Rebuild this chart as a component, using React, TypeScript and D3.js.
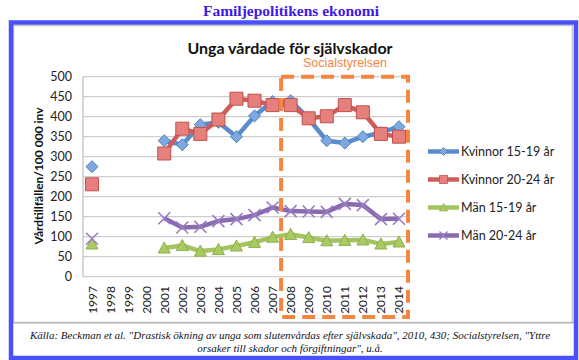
import React, { useEffect, useRef } from 'react';
import * as d3 from 'd3';

const pageTitle = 'Familjepolitikens ekonomi';
const chartTitle = 'Unga vårdade för självskador';
const highlightLabel = 'Socialstyrelsen';
const yAxisTitle = 'Vårdtillfällen/100 000 inv';
const captionLines = [
  'Källa: Beckman et al. "Drastisk ökning av unga som slutenvårdas efter självskada", 2010, 430; Socialstyrelsen, "Yttre',
  'orsaker till skador och förgiftningar", u.å.',
];

const years = ['1997', '1998', '1999', '2000', '2001', '2002', '2003', '2004', '2005',
  '2006', '2007', '2008', '2009', '2010', '2011', '2012', '2013', '2014'];
const yTicks = [0, 50, 100, 150, 200, 250, 300, 350, 400, 450, 500];
const highlightYears = ['2008', '2014'];

const kvinnor1519 = [275, null, null, null, 340, 330, 380, 386, 350, 402, 438, 440, 395, 340, 334, 350, 360, 375];
const kvinnor2024 = [231, null, null, null, 308, 370, 357, 393, 445, 440, 429, 429, 396, 401, 429, 411, 357, 350];
const man1519 = [82, null, null, null, 72, 78, 64, 68, 77, 86, 99, 106, 98, 90, 91, 92, 82, 87];
const man2024 = [95, null, null, null, 146, 123, 125, 139, 144, 154, 173, 164, 163, 162, 182, 179, 144, 145];

const seriesNames = ['Kvinnor 15-19 år', 'Kvinnor 20-24 år', 'Män 15-19 år', 'Män 20-24 år'];

type Series = {
  name: string;
  values: (number | null)[];
  line: string;
  fill: string;
  stroke: string;
  shape: 'diamond' | 'square' | 'triangle' | 'cross';
};

const series: Series[] = [
  { name: seriesNames[0], values: kvinnor1519, line: '#5a8ccc', fill: '#7ea9e0', stroke: '#4f81bd', shape: 'diamond' },
  { name: seriesNames[1], values: kvinnor2024, line: '#d05c59', fill: '#e5807c', stroke: '#c0504d', shape: 'square' },
  { name: seriesNames[2], values: man1519, line: '#a3c45f', fill: '#a8cc62', stroke: '#8fae50', shape: 'triangle' },
  { name: seriesNames[3], values: man2024, line: '#8a6bb0', fill: 'none', stroke: '#9a7cc0', shape: 'cross' },
];

function markerPath(shape: Series['shape'], s: number): string {
  const h = s / 2;
  if (shape === 'diamond') return `M0,${-h}L${h},0L0,${h}L${-h},0Z`;
  if (shape === 'square') return `M${-h},${-h}H${h}V${h}H${-h}Z`;
  if (shape === 'triangle') return `M0,${-h}L${h},${h * 0.85}L${-h},${h * 0.85}Z`;
  return `M${-h},${-h}L${h},${h}M${h},${-h}L${-h},${h}`;
}

export default function App() {
  const ref = useRef<SVGSVGElement>(null);

  useEffect(() => {
    const width = 579;
    const height = 360;
    const svg = d3.select(ref.current);
    svg.selectAll('*').remove();
    svg.attr('width', width).attr('height', height);

    const sans = 'Lato, "Open Sans", sans-serif';

    // Page heading
    svg.append('text')
      .text(pageTitle)
      .attr('x', 291)
      .attr('y', 16)
      .attr('text-anchor', 'middle')
      .attr('font-family', '"Liberation Serif", serif')
      .attr('font-weight', 'bold')
      .attr('font-size', '15.5px')
      .attr('fill', '#3d19e8');

    // Inner box + separator
    svg.append('rect')
      .attr('x', 13.5).attr('y', 25.5)
      .attr('width', 559).attr('height', 297)
      .attr('fill', 'none')
      .attr('stroke', '#c4c4c4')
      .attr('stroke-width', 1.5);

    svg.append('line')
      .attr('x1', 13).attr('x2', 574)
      .attr('y1', 322.7).attr('y2', 322.7)
      .attr('stroke', '#b8b8b8')
      .attr('stroke-width', 1.5);

    // Blue frame
    svg.append('rect')
      .attr('x', 11).attr('y', 22.5)
      .attr('width', 565).attr('height', 335.5)
      .attr('fill', 'none')
      .attr('stroke', '#4a50fb')
      .attr('stroke-width', 4.5);

    // Caption
    captionLines.forEach((line, i) => {
      svg.append('text')
        .text(line)
        .attr('x', 290)
        .attr('y', 339 + i * 13)
        .attr('text-anchor', 'middle')
        .attr('font-family', '"Liberation Serif", serif')
        .attr('font-style', 'italic')
        .attr('font-size', '11px')
        .attr('fill', '#111122');
    });

    // Chart title
    svg.append('text')
      .text(chartTitle)
      .attr('x', 290)
      .attr('y', 54)
      .attr('text-anchor', 'middle')
      .attr('font-family', sans)
      .attr('font-weight', 'bold')
      .attr('font-size', '16px')
      .attr('fill', '#111');

    // Scales
    const x = d3.scaleBand<string>()
      .domain(years)
      .range([83, 408])
      .padding(0);
    const cx = (yr: string) => (x(yr) as number) + x.bandwidth() / 2;

    const y = d3.scaleLinear()
      .domain([0, 500])
      .range([276.7, 76.7]);

    // Gridlines
    svg.append('g')
      .selectAll('line')
      .data(yTicks)
      .enter()
        .append('line')
        .attr('x1', 83)
        .attr('x2', 408)
        .attr('y1', d => y(d))
        .attr('y2', d => y(d))
        .attr('stroke', '#c2c2c2')
        .attr('stroke-width', 1);

    svg.append('line')
      .attr('x1', 83).attr('x2', 83)
      .attr('y1', y(0)).attr('y2', y(500))
      .attr('stroke', '#b0b0b0');

    // y tick labels
    svg.append('g')
      .selectAll('text')
      .data(yTicks)
      .enter()
        .append('text')
        .text(d => d)
        .attr('x', 72)
        .attr('y', d => y(d) + 4.5)
        .attr('text-anchor', 'end')
        .attr('font-family', sans)
        .attr('font-size', '12.5px')
        .attr('fill', '#222');

    // x tick labels (rotated)
    svg.append('g')
      .selectAll('text')
      .data(years)
      .enter()
        .append('text')
        .text(d => d)
        .attr('transform', d => `translate(${cx(d) + 4.5}, 286) rotate(-90)`)
        .attr('text-anchor', 'end')
        .attr('font-family', sans)
        .attr('font-size', '12px')
        .attr('fill', '#222');

    // y axis title
    svg.append('text')
      .text(yAxisTitle)
      .attr('transform', `translate(43, 176) rotate(-90)`)
      .attr('text-anchor', 'middle')
      .attr('font-family', sans)
      .attr('font-weight', 'bold')
      .attr('font-size', '12px')
      .attr('fill', '#111');

    // Lines
    const line = d3.line<number | null>()
      .defined(d => d !== null)
      .x((d, i) => cx(years[i]))
      .y(d => y(d as number));

    series.forEach(s => {
      svg.append('path')
        .attr('d', line(s.values))
        .attr('fill', 'none')
        .attr('stroke', s.line)
        .attr('stroke-width', 4.5)
        .attr('stroke-linejoin', 'round');
    });

    // Markers
    series.forEach(s => {
      const pts = s.values
        .map((v, i) => ({ v, yr: years[i] }))
        .filter(p => p.v !== null);
      svg.append('g')
        .selectAll('path')
        .data(pts)
        .enter()
          .append('path')
          .attr('d', markerPath(s.shape, s.shape === 'square' ? 13 : 12))
          .attr('transform', p => `translate(${cx(p.yr)}, ${y(p.v as number)})`)
          .attr('fill', s.fill)
          .attr('stroke', s.stroke)
          .attr('stroke-width', s.shape === 'cross' ? 1.6 : 1);
    });

    // Highlight box (dashed)
    const hx0 = cx(highlightYears[0]) - x.bandwidth() / 2 - 0.5;
    const hx1 = cx(highlightYears[1]) + x.bandwidth() / 2;
    svg.append('rect')
      .attr('x', hx0)
      .attr('y', y(500))
      .attr('width', hx1 - hx0)
      .attr('height', 317 - y(500))
      .attr('fill', 'none')
      .attr('stroke', '#f58640')
      .attr('stroke-width', 4)
      .attr('stroke-dasharray', '13 7');

    svg.append('text')
      .text(highlightLabel)
      .attr('x', 345)
      .attr('y', 67)
      .attr('text-anchor', 'middle')
      .attr('font-family', '"Liberation Sans", Arial, sans-serif')
      .attr('font-size', '12.5px')
      .attr('fill', '#f58640');

    // Legend
    const legend = svg.append('g')
      .selectAll('g')
      .data(series)
      .enter()
        .append('g')
        .attr('transform', (d, i) => `translate(428, ${151.5 + i * 28})`);

    legend.append('line')
      .attr('x1', 0).attr('x2', 31)
      .attr('y1', 0).attr('y2', 0)
      .attr('stroke', d => d.line)
      .attr('stroke-width', 4.5);

    legend.append('path')
      .attr('d', d => markerPath(d.shape, 8))
      .attr('transform', 'translate(15.5, 0)')
      .attr('fill', d => d.fill)
      .attr('stroke', d => d.stroke)
      .attr('stroke-width', d => (d.shape === 'cross' ? 1.4 : 0.8));

    legend.append('text')
      .text(d => d.name)
      .attr('x', 33)
      .attr('y', 4.5)
      .attr('font-family', sans)
      .attr('font-size', '12.5px')
      .attr('fill', '#222');
  }, []);

  return <svg ref={ref} style={{ position: 'absolute', left: 0, top: 0 }} />;
}
